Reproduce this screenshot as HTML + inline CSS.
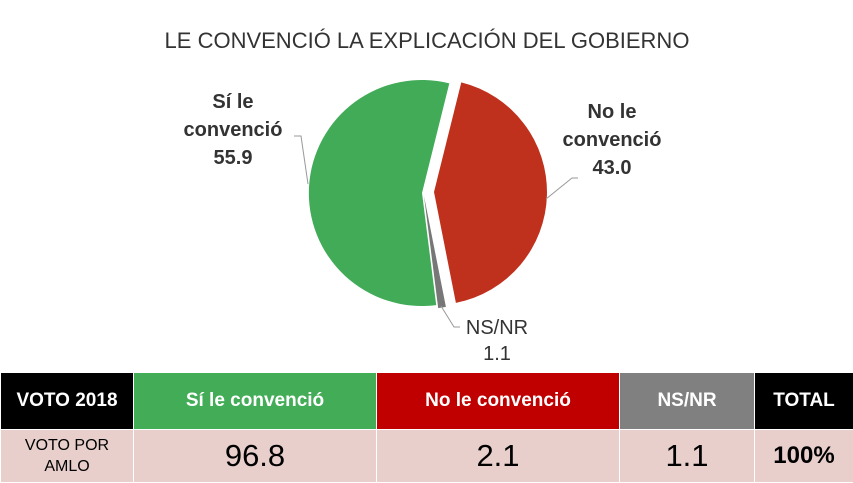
<!DOCTYPE html>
<html><head><meta charset="utf-8"><style>
body{margin:0;width:853px;height:483px;background:#fff;font-family:"Liberation Sans",sans-serif;overflow:hidden;position:relative}
table{position:absolute;left:0;top:372px;width:853px;border-collapse:collapse;table-layout:fixed}
td{text-align:center;padding:0;border:1px solid #fff}
.h td{height:56px;color:#fff;font-weight:bold;font-size:19px}
.d td{height:52px;background:#e8cfcb;color:#000;font-size:31px}
</style></head><body>
<svg width="853" height="372" style="position:absolute;left:0;top:0" font-family="Liberation Sans, sans-serif">
<text x="427" y="48" text-anchor="middle" font-size="22" fill="#333">LE CONVENCIÓ LA EXPLICACIÓN DEL GOBIERNO</text>
<path d="M422,193 L436.2,305.1 A113,113 0 1 1 449.3,83.4 Z" fill="#41ab58"/>
<path d="M434,192 L461.3,82.4 A113,113 0 0 1 455.9,302.9 Z" fill="#c0311d"/>
<path d="M424,196 L445.9,306.9 A113,113 0 0 1 438.2,308.1 Z" fill="#777"/>
<g font-size="20" font-weight="bold" fill="#333" text-anchor="middle">
<text x="233" y="108">Sí le</text><text x="233" y="136">convenció</text><text x="233" y="164">55.9</text>
<text x="612" y="118">No le</text><text x="612" y="146">convenció</text><text x="612" y="174">43.0</text>
</g>
<polyline points="294,136 301,136 308,184" fill="none" stroke="#999" stroke-width="1"/>
<polyline points="546,199 572,178 578,178" fill="none" stroke="#999" stroke-width="1"/>
<polyline points="441,306 454,327 460,327" fill="none" stroke="#999" stroke-width="1"/>
<g font-size="20" fill="#333" text-anchor="middle"><text x="497" y="334">NS/NR</text><text x="497" y="360">1.1</text></g>
</svg>
<table>
<colgroup><col style="width:133px"><col style="width:243px"><col style="width:243px"><col style="width:135px"><col style="width:99px"></colgroup>
<tr class="h"><td style="background:#000">VOTO 2018</td><td style="background:#42ac57">Sí le convenció</td><td style="background:#c00000">No le convenció</td><td style="background:#808080">NS/NR</td><td style="background:#000">TOTAL</td></tr>
<tr class="d"><td style="font-size:16px;line-height:21px">VOTO POR<br>AMLO</td><td>96.8</td><td>2.1</td><td>1.1</td><td style="font-weight:bold;font-size:24px">100%</td></tr>
</table>
</body></html>
